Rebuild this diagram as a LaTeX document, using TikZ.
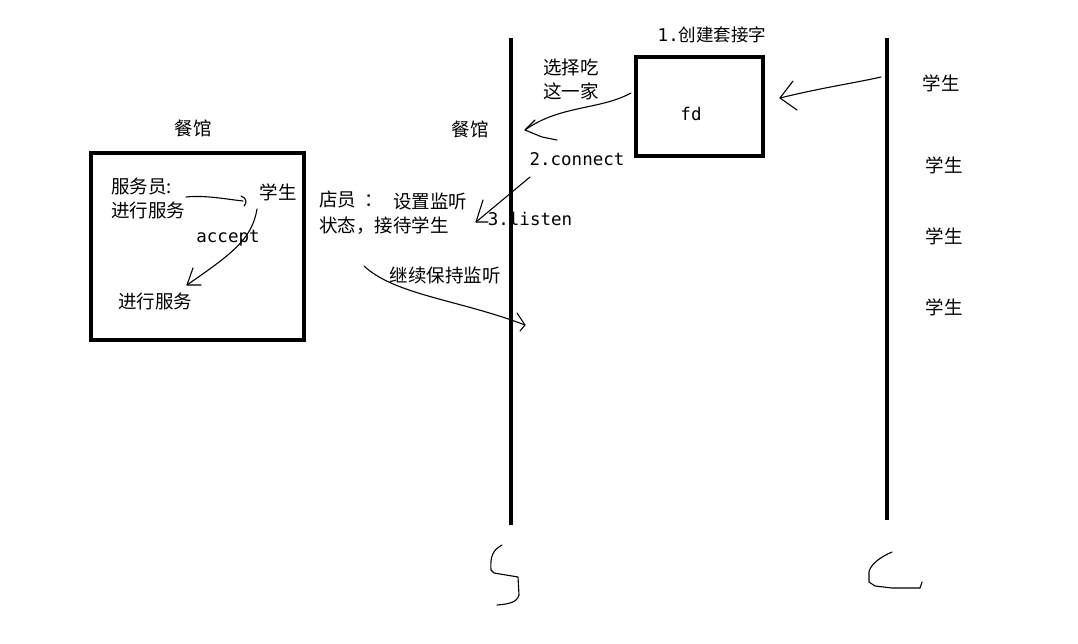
\documentclass[tikz,border=0pt]{standalone}
\usepackage{fontspec}
\newfontfamily\cjk{Noto Sans CJK SC}
\newfontfamily\mono{DejaVu Sans Mono}
\begin{document}
\begin{tikzpicture}[x=1pt,y=-1pt,
  cn/.style={font=\cjk\fontsize{18.5}{24}\selectfont, inner sep=0pt},
  mn/.style={font=\mono\fontsize{17.5}{22}\selectfont, inner sep=0pt},
  thickline/.style={line width=4.5pt},
  pen/.style={line width=1.1pt, line cap=round, line join=round}]
\useasboundingbox[fill=white] (0,0) rectangle (1078,643);

% left restaurant box
\node[cn] (t1) at (193,128) {餐馆};
\draw[thickline] (91,153) rectangle (304,340);
\node[cn, anchor=west, align=left] (serv) at (111,198) {服务员:\\进行服务};
\node[cn] (stu0) at (278,192) {学生};
\node[mn] (acc) at (228,238) {accept};
\node[cn] (serve2) at (155,301) {进行服务};

\coordinate (s1a) at (186,197);
\coordinate (s1b) at (243,201);
\draw[pen] (s1a) .. controls (205,195) and (225,199) .. (s1b);
\draw[pen] (241,196) .. controls (247,198) and (247,203) .. (244,206);

\coordinate (a1) at (257,209);
\coordinate (a2) at (187,285);
\draw[pen] (a1) .. controls (252,240) and (230,255) .. (a2);
\draw[pen] (193,268) -- (a2) -- (201,285);

% middle line
\draw[thickline] (511,38) -- (511,525);
\node[cn] (t2) at (470,129) {餐馆};
\node[cn, anchor=west] (clerk1) at (319,200) {店员\hspace{8pt}：};
\node[cn, anchor=west] (clerk2) at (393,202) {设置监听};
\node[cn, anchor=west] (clerk3) at (319,226) {状态，接待学生};
\node[cn] (cont) at (445,275) {继续保持监听};
\coordinate (c1) at (364,266);
\coordinate (c2) at (525,325);
\draw[pen] (c1) .. controls (395,295) and (460,300) .. (c2);
\draw[pen] (517,313) -- (c2) -- (520,331);

% fd box
\node[draw, line width=4.5pt, minimum width=127pt, minimum height=99pt, inner sep=0pt] (fd) at (699.5,106.5) {};
\node[mn] (fdt) at (691,114) {fd};
\node[mn] (sock) at (712,35) {1.{\cjk 创建套接字}};
\node[cn, align=center] (sel) at (571,79) {选择吃\\这一家};
\node[mn] (conn) at (577,159) {2.connect};
\node[mn] (lis) at (530,219) {3.listen};

\coordinate (p1) at (631,93);
\coordinate (p2) at (525,130);
\draw[pen] (p1) .. controls (600,110) and (560,105) .. (p2);
\draw[pen] (535,120) -- (p2) -- (542,137) -- (557,140);

\coordinate (q1) at (530,177);
\coordinate (q2) at (476,222);
\draw[pen] (q1) -- (q2);
\draw[pen] (483,200) -- (q2) -- (488,222);

% right line
\draw[thickline] (887,38) -- (887,520);
\node[cn] (st1) at (941,83) {学生};
\node[cn] (st2) at (944,165) {学生};
\node[cn] (st3) at (944,236) {学生};
\node[cn] (st4) at (944,307) {学生};
\coordinate (r1) at (881,77);
\coordinate (r2) at (780,98);
\draw[pen] (r1) .. controls (860,82) and (820,88) .. (r2);
\draw[pen] (793,81) -- (r2) -- (797,110);

% squiggles
\draw[pen] (502,545) .. controls (493,550) and (490,556) .. (491,570)
  -- (494,573) -- (518,577) -- (519,595) .. controls (517,602) and (510,604) .. (497,605);
\draw[pen] (892,552) .. controls (880,557) and (870,565) .. (869,572)
  -- (869,582) -- (875,586) -- (892,588) -- (920,588) -- (922,582);
\end{tikzpicture}
\end{document}
